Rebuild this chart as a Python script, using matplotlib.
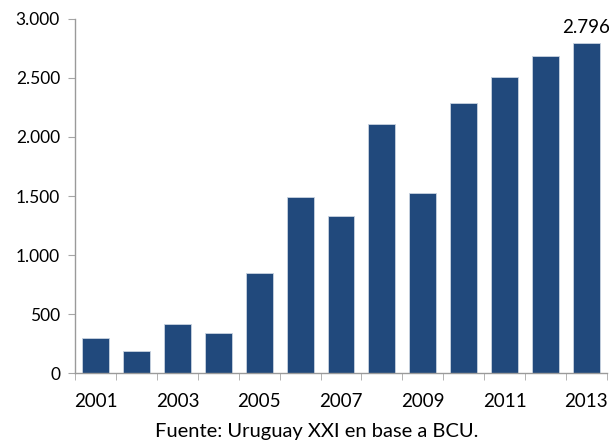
import matplotlib
matplotlib.use("Agg")
import matplotlib.pyplot as plt
import numpy as np

years = list(range(2001, 2014))
values = [296, 191, 417, 338, 846, 1491, 1328, 2106, 1528, 2286, 2506, 2686, 2796]
yticks = [0, 500, 1000, 1500, 2000, 2500, 3000]
ytick_labels = ["0", "500", "1.000", "1.500", "2.000", "2.500", "3.000"]
source = "Fuente: Uruguay XXI en base a BCU."
last_label = "2.796"

plt.rcParams['font.family'] = ['Lato', 'DejaVu Sans']

fig = plt.figure(figsize=(6.09, 4.44), dpi=100)
ax = fig.add_axes([0.1237, 0.1592, 0.9962 - 0.1237, 0.9579 - 0.1592])

x = np.arange(len(years))
ax.bar(x, values, width=0.66, color='#21497C', edgecolor='#C9D3E0', linewidth=0.6)

ax.set_xlim(-0.5, len(years) - 0.5)
ax.set_ylim(0, 3000)
ax.set_yticks(yticks)
ax.set_yticklabels(ytick_labels, fontsize=12.5, color='#000000')

ax.set_xticks(x[::2])
ax.set_xticklabels([str(y) for y in years[::2]], fontsize=13.5)
ax.set_xticks(np.arange(-0.5, len(years) + 0.5, 1), minor=True)
ax.tick_params(axis='x', which='major', length=0, pad=14)
ax.tick_params(axis='x', which='minor', length=5, color='#A6A6A6', direction='out')
ax.tick_params(axis='y', length=5, color='#A6A6A6', pad=6)

for s in ['top', 'right']:
    ax.spines[s].set_visible(False)
for s in ['left', 'bottom']:
    ax.spines[s].set_color('#9A9A9A')
    ax.spines[s].set_linewidth(1.0)

ax.annotate(last_label, xy=(x[-1], values[-1]), xytext=(0, 5), textcoords='offset points',
            ha='center', va='bottom', fontsize=13.5)

fig.text(0.520, 0.008, source, ha='center', va='bottom', fontsize=14.5)

fig.savefig('out.png', dpi=100)
